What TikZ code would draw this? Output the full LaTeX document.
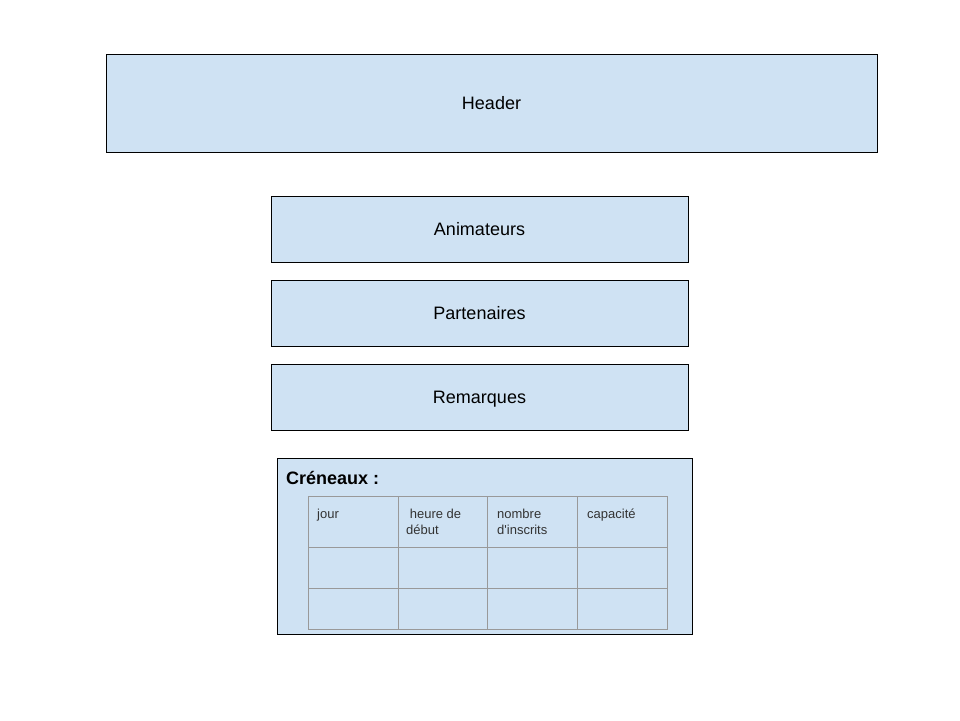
\documentclass[tikz,border=0pt]{standalone}
\usepackage{fontspec}
\setmainfont{Liberation Sans}
\definecolor{boxfill}{HTML}{CFE2F3}
\definecolor{gridgrey}{HTML}{999999}
\begin{document}
\begin{tikzpicture}[x=1pt,y=-1pt,
  panel/.style={draw=black, fill=boxfill, line width=0.8pt},
  lbl/.style={font=\fontsize{18}{21}\selectfont, text=black, anchor=base},
  cell/.style={font=\fontsize{13}{16}\selectfont, text=black!80, anchor=north west, align=left, inner sep=0pt},
  grid/.style={draw=gridgrey, line width=0.8pt}]
\useasboundingbox (0,0) rectangle (960,720);
\draw[panel] (106,54) rectangle (877,152);
\node[lbl] (header) at (491.5,109.5) {Header};
\draw[panel] (271,196) rectangle (688,262);
\node[lbl] (anim) at (479.5,235.5) {Animateurs};
\draw[panel] (271,280) rectangle (688,346);
\node[lbl] (part) at (479.5,319.5) {Partenaires};
\draw[panel] (271,364) rectangle (688,430);
\node[lbl] (rem) at (479.5,403.5) {Remarques};
\draw[panel] (277,458) rectangle (692,634);
\node[anchor=base west, font=\bfseries\fontsize{18}{21}\selectfont, inner sep=0pt] (cren) at (286,484.5) {Créneaux :};
% table
\draw[grid] (308,496) rectangle (667,629);
\foreach \x in {398,487,577} \draw[grid] (\x,496) -- (\x,629);
\foreach \y in {547,588} \draw[grid] (308,\y) -- (667,\y);
\node[cell] (c1) at (317,508.5) {jour};
\node[cell] (c2) at (406,508.5) {\ heure de\\début};
\node[cell] (c3) at (497,508.5) {nombre\\d\textquotesingle inscrits};
\node[cell] (c4) at (587,508.5) {capacité};
\end{tikzpicture}
\end{document}
